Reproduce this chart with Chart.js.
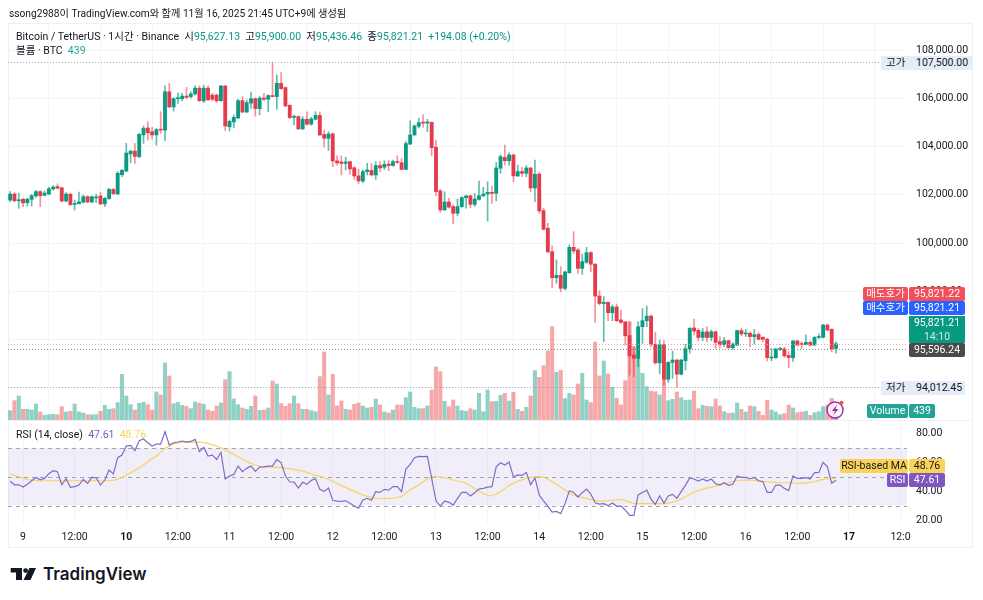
<!DOCTYPE html>
<html>
<head>
<meta charset="utf-8">
<title>BTCUSDT 1h</title>
<script src="https://cdn.jsdelivr.net/npm/chart.js@4"></script>
<style>
    html, body { margin: 0; padding: 0; background: #fff; }
    body { width: 983px; height: 600px; position: relative; overflow: hidden; font-family: Roboto, "Noto Sans CJK KR", sans-serif; font-size: 10.5px; color: #131722; }
    canvas { position: absolute; left: 0; }
    #frame { position: absolute; left: 8px; top: 23px; width: 965px; height: 525px; border: 1px solid #f0f1f5; box-sizing: border-box; }
    #split { position: absolute; left: 8px; top: 420px; width: 965px; height: 1px; background: #f0f1f5; }
    .t { position: absolute; white-space: nowrap; line-height: 14px; z-index: 5; }
    .g { color: #089981; }
    .pill { position: absolute; z-index: 6; color: #fff; line-height: 14px; text-align: center; white-space: nowrap; border-radius: 2px; }
    .soft { position: absolute; z-index: 4; background: #e6edf8; height: 14px; }
    svg { position: absolute; left: 0; top: 0; z-index: 7; }
</style>
</head>
<body>
<div id="frame"></div>
<canvas id="mainChart" width="983" height="420" style="top:0"></canvas>
<canvas id="rsiChart" width="983" height="128" style="top:420px"></canvas>
<div id="split"></div>

<div class="t" style="left:9px;top:7px;font-size:10.2px">ssong2988이 TradingView.com와 함께 11월 16, 2025 21:45 UTC+9에 생성됨</div>
<div class="t" style="left:16px;top:30px">Bitcoin / TetherUS · 1시간 · Binance &nbsp;시<span class="g">95,627.13</span> &nbsp;고<span class="g">95,900.00</span> &nbsp;저<span class="g">95,436.46</span> &nbsp;종<span class="g">95,821.21</span> &nbsp;<span class="g">+194.08 (+0.20%)</span></div>
<div class="t" style="left:16px;top:44px">볼륨 · BTC &nbsp;<span style="color:#26a69a">439</span></div>
<div class="t" style="left:16px;top:428px">RSI (14, close) &nbsp;<span style="color:#7e57c2">47.61</span> &nbsp;<span style="color:#f7d35c">48.76</span></div>

<div class="soft" style="left:881px;top:56px;width:91px"></div>
<div class="t" style="left:886px;top:56px">고가</div>
<div class="t" style="left:916px;top:56px">107,500.00</div>

<div class="pill" style="left:863px;top:287px;width:45px;background:#f0505c">매도호가</div>
<div class="pill" style="left:909px;top:287px;width:56px;background:#f0505c">95,821.22</div>
<div class="pill" style="left:863px;top:301px;width:45px;background:#2962ff">매수호가</div>
<div class="pill" style="left:909px;top:301px;width:56px;background:#2962ff">95,821.21</div>
<div class="pill" style="left:909px;top:316px;width:56px;height:27px;background:#089981;border-radius:0">95,821.21<br><span style="opacity:.8">14:10</span></div>
<div class="pill" style="left:909px;top:343px;width:56px;background:#4a4a4a">95,596.24</div>

<div class="soft" style="left:881px;top:381px;width:84px"></div>
<div class="t" style="left:886px;top:381px">저가</div>
<div class="t" style="left:916px;top:381px">94,012.45</div>

<div class="pill" style="left:867px;top:404px;width:41px;background:#22a594">Volume</div>
<div class="pill" style="left:909px;top:404px;width:26px;background:#22a594">439</div>

<div class="pill" style="left:840px;top:459px;width:68px;background:#f9d256;color:#131722">RSI-based MA</div>
<div class="pill" style="left:909px;top:459px;width:36px;background:#f9d256;color:#131722">48.76</div>
<div class="pill" style="left:887px;top:473px;width:21px;background:#7e57c2">RSI</div>
<div class="pill" style="left:909px;top:473px;width:36px;background:#7e57c2">47.61</div>

<div class="t" style="left:43px;top:564px;font-family:Inter,sans-serif;font-weight:600;font-size:17px;line-height:20px;color:#131722">TradingView</div>

<svg width="983" height="600">
    <circle cx="835" cy="410" r="8" fill="#fff" fill-opacity=".75" stroke="#9c27b0" stroke-width="1.4"/>
    <path d="M837 404.5 L832 411 L835 411 L833 415.5 L838.5 409 L835.5 409 Z" fill="#9c27b0"/>
    <circle cx="841.5" cy="402.8" r="2" fill="#ef5350"/>
    <polygon points="10.7,568 22,568 22,580 16,580 16,572.5 10.7,572.5" fill="#131722"/>
    <circle cx="25.6" cy="570.6" r="2.4" fill="#131722"/>
    <polygon points="29.5,568 36,568 30.5,580 23.5,580" fill="#131722"/>
</svg>

<script>
// one entry per 1h candle, first one is Nov 8 21:00, last one Nov 16 21:00
const opens = [
    101780,102030,101750,101810,101670,101810,101950,102130,101980,102030,
    102240,102340,102290,101740,102020,101600,101630,101690,101920,101700,
    101870,101950,101620,101840,102220,102030,102830,102980,103690,103810,
    103580,104480,104770,104610,104480,104710,104680,106270,105640,105980,
    105980,106090,106070,106180,106420,105890,106420,106130,106130,105900,
    106510,104820,105020,105180,105900,105430,105800,105980,105570,106010,
    105960,106110,106070,106620,106440,105710,105210,105240,104730,105130,
    104930,105130,105290,104500,104340,104520,103400,103360,103300,103370,
    103120,102780,102570,102960,103010,102820,103210,103140,103270,103210,
    103360,103330,103050,104100,104480,104840,105000,104970,105000,103970,
    102160,101370,101700,101510,101230,101510,101880,101960,101600,101810,
    101960,102030,102100,102060,103100,103550,103410,103650,102780,102960,
    102890,103110,102280,102860,101340,100610,99640,98560,98660,98120,
    98770,99820,99710,98950,99200,99600,99120,97800,97490,97540,
    97110,97350,96810,96730,96160,95360,95220,96530,96780,96970,
    95800,95030,95790,94350,95050,95150,94560,95120,95610,96480,
    96380,96090,96320,96090,96320,95910,95790,95950,95660,95770,
    96370,96230,96260,96120,96210,96090,96010,95230,95250,95590,
    95610,95340,95240,95940,95810,95790,95880,95770,96090,96090,
    96600,96420,95627.13
]
const highs = [
    102130,102090,102060,101850,101850,102020,102170,102170,102160,102310,
    102380,102450,102310,102090,102060,101780,102110,101990,101960,101950,
    102020,102110,101890,102270,102270,102960,103050,104130,103850,104130,
    104550,104850,105030,104790,104750,105440,106510,106620,106020,106230,
    106200,106450,106270,106510,106510,106540,106510,106200,106180,106540,
    106530,105100,105310,105960,106070,105930,106260,106020,106070,106200,
    106150,107500,106960,107060,106480,105730,105310,105280,105240,105440,
    105210,105440,105440,104680,104610,104560,103610,103610,103550,103400,
    103160,103050,103030,103300,103300,103370,103370,103410,103410,103440,
    103610,103510,104200,105070,104900,105170,105310,105130,105020,104270,
    102220,102130,101850,101580,101820,101920,101990,101990,102060,102570,
    102310,102540,102360,103340,103650,104060,103740,103690,103230,103140,
    103210,103140,103440,102920,101440,100820,99880,99300,99020,98840,
    99920,100470,99780,99540,99820,99640,99160,98020,97780,97570,
    97430,97470,97220,96750,96740,95700,96740,97290,97390,97020,
    96300,95980,95950,95080,95520,95180,95180,95800,96500,96850,
    96460,96460,96530,96390,96350,96120,96090,95980,95870,96390,
    96450,96420,96320,96420,96280,96120,96050,95630,95630,95680,
    95680,95500,95950,95970,95910,96190,95950,96120,96230,96630,
    96640,96450,95900
]
const lows = [
    101710,101710,101440,101510,101530,101530,101890,101510,101950,102000,
    102180,102240,101700,101700,101560,101370,101620,101660,101670,101670,
    101670,101590,101510,101810,102020,102020,102750,102960,103330,103300,
    103540,104130,104270,104300,104050,104550,104240,105610,105470,105790,
    105900,105980,106000,106130,105860,105820,105900,105890,105830,105870,
    104660,104640,104770,105150,105400,105400,105580,105260,105310,105900,
    105440,106050,105540,106370,105650,105150,104890,104710,104700,104890,
    104880,105100,104440,103970,103830,103160,103230,102820,103030,102850,
    102640,102470,102500,102820,102780,102640,102960,103050,103000,103180,
    103300,103030,103040,104080,104460,104770,104790,104610,103610,101960,
    101270,101350,101440,100800,101130,101480,101440,101460,101510,101780,
    101920,100910,101640,101750,102890,103230,103230,102540,102750,102750,
    102750,102130,101710,101230,100540,99600,98150,98330,97980,98050,
    98740,99570,98740,98700,99160,98810,96710,97430,95910,96780,
    96780,96740,96670,95770,94530,94460,94870,95840,96530,95700,
    94980,94570,94110,94220,94390,94012.45,94530,94740,95430,96190,
    95940,95950,95910,95950,95630,95650,95700,95630,95590,95740,
    96150,96120,95700,95810,95980,95910,95110,95120,95210,95540,
    95260,94830,95090,95730,95630,95760,95730,95740,96020,96050,
    96370,95480,95436.46
]
const closes = [
    102030,101750,101770,101660,101820,101960,102130,101960,102070,102250,
    102320,102270,101740,102030,101590,101640,101700,101920,101700,101920,
    101890,101620,101850,102220,102040,102890,103010,103730,103810,103590,
    104500,104750,104570,104480,104700,104680,106270,105640,105980,106020,
    106090,106040,106180,106420,105900,106420,105940,105960,105890,106510,
    104850,105040,105210,105900,105430,105820,105980,105570,106010,105960,
    106110,106070,106620,106400,105680,105200,105240,104730,105130,104920,
    105140,105290,104480,104340,104520,103400,103320,103300,103360,103070,
    102780,102570,102960,103030,102820,103210,103110,103260,103210,103370,
    103340,103050,104120,104480,104850,104990,104970,105020,103950,102130,
    101370,101700,101490,101230,101510,101880,101950,101600,101820,101960,
    102030,102100,102060,103110,103580,103410,103650,102780,102960,102890,
    103110,102280,102850,101330,100570,99630,98560,98660,98120,98800,
    99820,99670,98950,99230,99600,99120,97800,97490,97540,97110,
    97350,96780,96710,96150,95320,95220,96530,96780,96970,95800,
    95030,95790,94350,95050,95150,94560,95150,95620,96460,96350,
    96080,96310,96080,96320,95880,95790,95950,95660,95810,96370,
    96230,96260,96120,96200,96010,96010,95250,95260,95610,95620,
    95320,95250,95940,95770,95790,95880,95770,96090,96120,96600,
    96390,95610,95821.21
]
const volumes = [
    840,1740,2160,960,960,900,1440,720,420,480,
    510,480,1200,720,780,1440,720,630,480,480,
    480,780,1320,960,1020,1560,4110,2160,1380,900,
    1500,1590,1380,900,2520,2250,5130,3960,1470,1590,
    1320,1230,1020,1620,1500,1410,900,780,1260,1530,
    3630,4350,1890,1380,1080,960,1230,2160,870,900,
    1080,3510,3240,1470,1230,1470,2160,1470,960,960,
    840,750,3900,6120,2250,4110,1260,1710,960,900,
    1410,1530,1260,1080,1140,1890,1350,720,630,900,
    1350,1350,2010,2520,1140,1020,1020,1260,2700,4770,
    4350,1680,1200,1800,1260,840,780,1020,900,2400,
    750,2700,1650,1680,2220,2400,1710,2490,960,780,
    1140,2160,4440,3840,4890,6210,8400,4290,4470,1920,
    2400,2250,3240,4200,1800,1560,7020,3960,5310,4140,
    2940,1950,1350,3540,8850,6600,5550,4200,3000,2610,
    2550,2250,3600,1740,1860,2520,2010,1770,1800,2610,
    1020,1320,1230,1200,1890,1260,750,600,630,1530,
    960,720,1260,1200,780,420,1770,900,720,480,
    570,1350,1080,660,720,780,420,660,750,1200,
    1350,1950,439
]
const rsi = [
    46.8,44.4,44.4,42.8,44.7,47.2,49.5,47.9,48.8,52.1,
    54.2,53.5,44.4,48.6,42.6,43.1,44.2,48.1,45.4,49.5,
    49.3,44.2,47.7,54.6,51.9,63.2,65.0,71.3,71.8,68.1,
    75.0,76.2,73.6,71.3,72.7,72.7,81.3,72.0,73.6,74.1,
    74.8,74.1,74.5,75.9,67.4,70.4,64.4,65.0,62.0,66.9,
    48.4,50.5,51.6,57.4,53.5,55.8,57.4,53.7,56.7,56.9,
    57.4,57.4,62.0,59.7,50.5,46.5,46.3,42.1,46.1,44.7,
    47.5,48.6,41.2,39.8,42.1,33.6,33.1,32.9,33.3,31.5,
    29.6,28.2,33.8,35.0,33.6,39.6,39.1,41.2,40.7,43.1,
    43.1,39.6,55.3,58.6,63.2,64.1,63.9,64.1,48.8,33.3,
    29.6,33.1,32.2,30.3,35.0,39.1,39.1,36.6,38.9,41.4,
    41.9,42.8,43.1,56.9,59.7,58.1,60.2,49.8,51.2,50.9,
    53.0,44.4,49.3,37.3,33.3,29.6,25.5,25.9,24.3,31.3,
    40.3,39.1,35.9,38.9,41.4,38.0,31.9,31.0,31.3,29.9,
    31.7,29.6,29.6,26.9,23.1,23.1,37.3,39.1,40.7,34.3,
    30.8,36.8,31.5,36.6,37.7,35.0,39.6,44.2,49.1,48.4,
    47.0,48.4,47.0,48.4,45.1,44.4,45.8,44.0,44.7,50.5,
    49.5,49.5,48.6,49.5,47.2,46.5,39.1,39.1,44.2,44.2,
    41.9,40.3,50.5,48.8,48.8,49.3,48.4,52.8,53.0,60.0,
    56.9,45.4,47.61
]
const rsiMa = [
    51.9,50.9,50.0,49.1,48.1,47.7,47.5,47.2,47.2,47.2,
    47.2,47.2,47.2,47.2,47.2,47.2,47.2,47.2,47.2,47.2,
    47.5,47.2,47.2,47.2,47.5,48.4,49.5,51.2,52.8,54.4,
    56.0,58.1,60.4,62.5,64.4,67.1,69.7,71.3,72.7,73.4,
    73.8,73.8,73.8,73.8,74.1,73.6,73.1,72.2,71.3,69.9,
    68.5,67.1,65.5,63.9,62.0,60.6,59.3,58.1,57.2,56.9,
    56.7,56.7,56.5,56.3,55.8,55.6,55.1,54.6,53.9,53.0,
    51.9,50.9,50.2,49.3,48.1,47.0,45.4,43.8,42.6,41.2,
    39.8,38.4,37.3,36.3,35.6,35.2,34.7,34.7,35.0,35.2,
    35.6,36.3,38.7,41.0,42.6,44.4,46.5,48.4,50.0,50.0,
    49.8,49.3,48.6,47.7,47.0,46.5,45.4,43.8,41.7,40.0,
    38.4,37.0,36.6,38.0,39.6,41.9,44.0,45.4,46.8,47.9,
    48.8,49.5,50.0,50.0,49.5,48.4,46.5,44.9,42.6,40.7,
    38.4,37.3,36.3,35.6,35.0,34.3,33.6,33.1,33.1,33.3,
    33.6,34.0,34.3,33.3,32.4,31.5,31.3,31.3,31.3,31.3,
    31.3,31.3,31.3,31.7,32.4,33.3,34.5,36.1,37.7,39.4,
    40.3,41.2,42.1,42.8,43.5,44.2,45.1,45.8,46.5,47.2,
    47.7,47.7,47.7,47.5,47.0,46.8,46.5,46.3,46.1,45.8,
    45.8,45.8,45.6,45.6,45.6,45.6,46.1,46.5,47.5,48.1,
    48.6,48.6,48.76
]

// hours since Nov 9 00:00, the axis runs on past the last candle
const categories = Array.from({ length: 209 }, (_, i) => i - 3)
const tickHours = [0, 12, 24, 36, 48, 60, 72, 84, 96, 108, 120, 132, 144, 156, 168, 180, 192, 204]
const tickLabels = ['9', '12:00', '10', '12:00', '11', '12:00', '12', '12:00', '13', '12:00', '14', '12:00', '15', '12:00', '16', '12:00', '17', '12:0']
const boldTicks = ['10', '17']
const priceTicks = [94000, 96000, 98000, 100000, 102000, 104000, 106000, 108000]
const rsiTicks = [20, 40, 60, 80]
const priceLines = [
    { value: 107500, color: '#a9adb5' },
    { value: 94012.45, color: '#a9adb5' },
    { value: 95821.21, color: '#f2a0a6' },
    { value: 95596.24, color: '#8a8e96' }
]
const rsiLevels = [70, 50, 30]

const UP = '#0b9a82'
const DOWN = '#e43c4c'
const GRID = '#f3f4f7'
const FONT = { family: 'Roboto, "Noto Sans CJK KR", sans-serif', size: 10.5 }

Chart.defaults.color = '#131722'
Chart.defaults.font = FONT

function isUp(i) {
    return closes[i] >= opens[i]
}

function keepTicks(scale) {
    scale.ticks = scale.ticks.filter(t => tickHours.includes(categories[t.value]))
}

// fixed axis box, the tick padding must not eat into the plot height
function fitPriceAxis(scale) {
    scale.width = 76
    scale.paddingTop = 0
    scale.paddingBottom = 0
}

// horizontal dotted lines over the price pane
const priceLinePlugin = {
    id: 'priceLinePlugin',
    afterDatasetsDraw(chart) {
        const { ctx, chartArea } = chart
        ctx.save()
        ctx.lineWidth = 1
        ctx.setLineDash([1, 2])
        priceLines.forEach(l => {
            const y = Math.round(chart.scales.y.getPixelForValue(l.value)) + 0.5
            ctx.strokeStyle = l.color
            ctx.beginPath()
            ctx.moveTo(chartArea.left, y)
            ctx.lineTo(chartArea.right, y)
            ctx.stroke()
        })
        ctx.restore()
    }
}

// RSI band and its dashed levels
const rsiBandPlugin = {
    id: 'rsiBandPlugin',
    beforeDatasetsDraw(chart) {
        const { ctx, chartArea } = chart
        const y = chart.scales.y
        const top = y.getPixelForValue(rsiLevels[0])
        const bottom = y.getPixelForValue(rsiLevels[2])
        ctx.save()
        ctx.fillStyle = 'rgba(126,87,194,0.1)'
        ctx.fillRect(chartArea.left, top, chartArea.right - chartArea.left, bottom - top)
        ctx.strokeStyle = '#a0a4ac'
        ctx.lineWidth = 1
        ctx.setLineDash([4, 4])
        rsiLevels.forEach(v => {
            const py = Math.round(y.getPixelForValue(v)) + 0.5
            ctx.beginPath()
            ctx.moveTo(chartArea.left, py)
            ctx.lineTo(chartArea.right, py)
            ctx.stroke()
        })
        ctx.restore()
    }
}

new Chart(document.getElementById('mainChart'), {
    type: 'bar',
    data: {
        labels: categories,
        datasets: [
            {
                label: 'Volume',
                yAxisID: 'vol',
                order: 3,
                grouped: false,
                barThickness: 3.4,
                data: volumes,
                backgroundColor: volumes.map((_, i) => isUp(i) ? 'rgba(8,153,129,0.45)' : 'rgba(235,60,60,0.45)')
            },
            {
                label: 'Wick',
                order: 2,
                grouped: false,
                barThickness: 1,
                data: highs.map((h, i) => [lows[i], h]),
                backgroundColor: highs.map((_, i) => isUp(i) ? 'rgba(8,153,129,0.65)' : 'rgba(242,54,69,0.55)')
            },
            {
                label: 'Body',
                order: 1,
                grouped: false,
                barThickness: 3.2,
                minBarLength: 1,
                data: opens.map((o, i) => [o, closes[i]]),
                backgroundColor: opens.map((_, i) => isUp(i) ? UP : DOWN)
            }
        ]
    },
    options: {
        responsive: false,
        animation: false,
        events: [],
        layout: { padding: { left: 8, right: 0, top: 24, bottom: 0 } },
        plugins: { legend: { display: false }, tooltip: { enabled: false } },
        scales: {
            x: {
                afterBuildTicks: keepTicks,
                afterFit: s => { s.height = 0 },
                grid: { color: GRID, drawTicks: false },
                border: { display: false },
                ticks: { display: false, autoSkip: false }
            },
            y: {
                position: 'right',
                min: 92663,
                max: 109078,
                afterBuildTicks: s => { s.ticks = priceTicks.map(v => ({ value: v })) },
                afterFit: fitPriceAxis,
                grid: { color: GRID, drawTicks: false },
                border: { display: false },
                ticks: {
                    padding: 9,
                    callback: v => v.toLocaleString('en-US', { minimumFractionDigits: 2 })
                }
            },
            vol: { display: false, min: 0, max: 35640 }
        }
    },
    plugins: [priceLinePlugin]
})

new Chart(document.getElementById('rsiChart'), {
    type: 'line',
    data: {
        labels: categories,
        datasets: [
            { label: 'RSI-based MA', data: rsiMa, borderColor: '#f7d35c', borderWidth: 1.2, pointRadius: 0, order: 2 },
            { label: 'RSI', data: rsi, borderColor: '#7f6cc4', borderWidth: 1.2, pointRadius: 0, order: 1 }
        ]
    },
    options: {
        responsive: false,
        animation: false,
        events: [],
        layout: { padding: { left: 8, right: 0, top: 1, bottom: 0 } },
        plugins: { legend: { display: false }, tooltip: { enabled: false } },
        scales: {
            x: {
                offset: true,
                afterBuildTicks: keepTicks,
                afterFit: s => { s.height = 25 },
                grid: { color: GRID, drawTicks: false },
                border: { display: false },
                ticks: {
                    autoSkip: false,
                    maxRotation: 0,
                    padding: 8,
                    color: '#131722',
                    font: ctx => ({ family: FONT.family, size: 10.5, weight: boldTicks.includes(ctx.tick && ctx.tick.label) ? 'bold' : 'normal' }),
                    callback: v => tickLabels[tickHours.indexOf(categories[v])]
                }
            },
            y: {
                position: 'right',
                min: 17.85,
                max: 88.7,
                afterBuildTicks: s => { s.ticks = rsiTicks.map(v => ({ value: v })) },
                afterFit: fitPriceAxis,
                grid: { display: false },
                border: { display: false },
                ticks: {
                    padding: 1,
                    callback: v => v.toFixed(2)
                }
            }
        }
    },
    plugins: [rsiBandPlugin]
})
</script>
</body>
</html>
